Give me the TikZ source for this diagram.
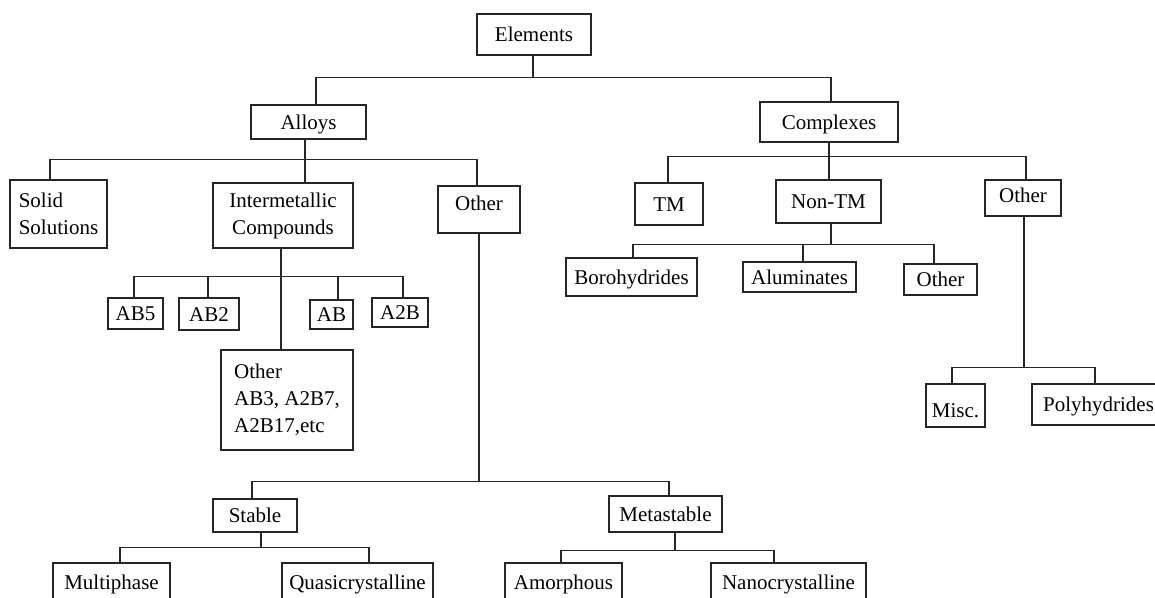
\documentclass[tikz,border=0pt]{standalone}
\usepackage{fontspec}
\setmainfont{Liberation Serif}
\begin{document}
\begin{tikzpicture}[x=1pt,y=-1pt,
  box/.style={draw=black!85, line width=1.4pt, inner sep=0pt, text height=14.3pt, text depth=0pt, font=\fontsize{21}{27}\selectfont},
  multi/.style={draw=black!85, line width=1.4pt, inner sep=0pt, align=left, font=\fontsize{21}{27}\selectfont},
  conn/.style={draw=black!85, line width=1.4pt}]
\path[use as bounding box] (0,0) rectangle (1155,597);
\clip (0,0) rectangle (1155,597);
% level 0
\node[box, minimum width=114pt, minimum height=41pt] (el) at (534,34.5) {Elements};
% level 1
\node[box, minimum width=115pt, minimum height=34pt] (al) at (308.5,122) {Alloys};
\node[box, minimum width=138pt, minimum height=40pt] (co) at (829,122) {Complexes};
% alloys children
\node[multi, minimum width=97pt, minimum height=68pt] (ss) at (58.5,214) {Solid\\Solutions};
\node[multi, align=center, minimum width=140pt, minimum height=65pt] (im) at (283,215.5) {Intermetallic\\Compounds};
\node[box, text depth=13pt, minimum width=82pt, minimum height=47pt] (ao) at (479,209.5) {Other};
% complexes children
\node[box, minimum width=68pt, minimum height=42pt] (tm) at (669,204) {TM};
\node[box, minimum width=105pt, minimum height=43pt] (nt) at (828.5,201.5) {Non-TM};
\node[box, text depth=6pt, minimum width=76pt, minimum height=36pt] (co2) at (1023,198) {Other};
% non-TM children
\node[box, minimum width=131pt, minimum height=38pt] (bo) at (631.5,277) {Borohydrides};
\node[box, minimum width=113pt, minimum height=30pt] (alu) at (799.5,277) {Aluminates};
\node[box, minimum width=73pt, minimum height=31pt] (nto) at (940.5,279.5) {Other};
% intermetallic children
\node[box, minimum width=55pt, minimum height=31pt] (ab5) at (135.5,313.5) {AB5};
\node[box, minimum width=60pt, minimum height=32pt] (ab2) at (209,314) {AB2};
\node[box, minimum width=43pt, minimum height=29pt] (ab) at (331.5,314.5) {AB};
\node[box, minimum width=56pt, minimum height=29pt] (a2b) at (400,312.5) {A2B};
\node[multi, minimum width=132pt, minimum height=100pt] (imo) at (287,400) {Other\\AB3, A2B7,\\A2B17,etc};
% other (complex) children
\node[box, text height=23.3pt, minimum width=59pt, minimum height=43pt] (mi) at (955.5,405.5) {Misc.};
\node[box, minimum width=133pt, minimum height=41pt] (po) at (1098.5,404.5) {Polyhydrides};
% other (alloys) children
\node[box, minimum width=84pt, minimum height=33pt] (st) at (255,515.5) {Stable};
\node[box, minimum width=113pt, minimum height=36pt] (me) at (665.5,514) {Metastable};
\node[box, minimum width=117pt, minimum height=38pt] (mp) at (111.5,582) {Multiphase};
\node[box, minimum width=151pt, minimum height=38pt] (qc) at (357.5,582) {Quasicrystalline};
\node[box, minimum width=117pt, minimum height=38pt] (am) at (563.5,582) {Amorphous};
\node[box, minimum width=155pt, minimum height=38pt] (nc) at (788.5,582) {Nanocrystalline};
% connectors
\draw[conn] ([xshift=-1pt]el.south) -- ++(0,22) -| ([xshift=7.5pt]al.north);
\draw[conn] ([xshift=-1pt]el.south) -- ++(0,22) -| ([xshift=2pt]co.north);
\draw[conn] ([xshift=-3.5pt]al.south) -- ++(0,20) -| ([xshift=-8.5pt]ss.north);
\draw[conn] ([xshift=-3.5pt]al.south) -- ++(0,20) -| ([xshift=22pt]im.north);
\draw[conn] ([xshift=-3.5pt]al.south) -- ++(0,20) -| ([xshift=-2pt]ao.north);
\draw[conn] (co.south) -- ++(0,14) -| ([xshift=-1pt]tm.north);
\draw[conn] (co.south) -- ++(0,14) -| ([xshift=0.5pt]nt.north);
\draw[conn] (co.south) -- ++(0,14) -| ([xshift=3pt]co2.north);
\draw[conn] ([xshift=-2pt]im.south) -- ++(0,28) -| ([xshift=-1.5pt]ab5.north);
\draw[conn] ([xshift=-2pt]im.south) -- ++(0,28) -| ([xshift=-1pt]ab2.north);
\draw[conn] ([xshift=-2pt]im.south) -- ++(0,28) -| ([xshift=6.5pt]ab.north);
\draw[conn] ([xshift=-2pt]im.south) -- ++(0,28) -| ([xshift=3pt]a2b.north);
\draw[conn] ([xshift=-2pt]im.south) -- ([xshift=-6pt]imo.north);
\draw[conn] ([xshift=2.5pt]nt.south) -- ++(0,21) -| ([xshift=1.5pt]bo.north);
\draw[conn] ([xshift=2.5pt]nt.south) -- ++(0,21) -| ([xshift=3.5pt]alu.north);
\draw[conn] ([xshift=2.5pt]nt.south) -- ++(0,21) -| ([xshift=-6.5pt]nto.north);
\draw[conn] ([xshift=1pt]co2.south) -- ++(0,151) -| ([xshift=-3.5pt]mi.north);
\draw[conn] ([xshift=1pt]co2.south) -- ++(0,151) -| ([xshift=-3.5pt]po.north);
\draw[conn] (ao.south) -- ++(0,248) -| ([xshift=-3pt]st.north);
\draw[conn] (ao.south) -- ++(0,248) -| ([xshift=3.5pt]me.north);
\draw[conn] ([xshift=6pt]st.south) -- ++(0,15) -| ([xshift=8.5pt]mp.north);
\draw[conn] ([xshift=6pt]st.south) -- ++(0,15) -| ([xshift=11.5pt]qc.north);
\draw[conn] ([xshift=9.5pt]me.south) -- ++(0,18) -| ([xshift=-2.5pt]am.north);
\draw[conn] ([xshift=9.5pt]me.south) -- ++(0,18) -| ([xshift=-14.5pt]nc.north);
\end{tikzpicture}
\end{document}
